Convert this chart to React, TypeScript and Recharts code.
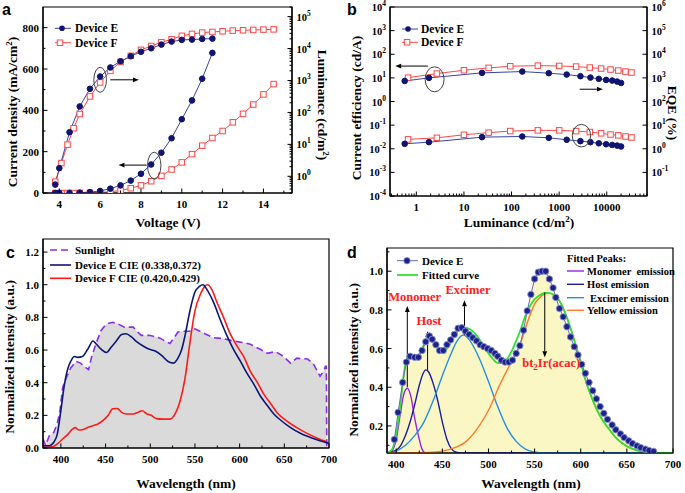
import React from "react"
import { ComposedChart, LineChart, Line, Area, XAxis, YAxis, ReferenceArea, ReferenceLine, ReferenceDot } from "recharts"

const SERIF = "'Liberation Serif', 'Times New Roman', serif"
const SANS = "'Liberation Sans', Arial, sans-serif"

// ---- (a) J-V-L ----
const voltE = [3.8, 4.0, 4.5, 5.0, 5.5, 6.0, 6.5, 7.0, 7.5, 8.0, 8.5, 9.0, 9.5, 10.0, 10.5, 11.0, 11.5]
const currentE = [0, 1, 1, 2, 4, 10, 21, 37, 60, 93, 138, 195, 265, 357, 448, 553, 678]
const lumE = [0.55, 1.8, 24, 154, 550, 1330, 2560, 4000, 5750, 7900, 10200, 13300, 16500, 18700, 19100, 20000, 20500]
const voltF = [3.8, 4.1, 4.4, 4.7, 5.0, 5.5, 6.0, 6.5, 7.0, 7.5, 8.0, 8.5, 9.0, 9.5, 10.0, 10.5, 11.0, 11.5, 12.0, 12.5, 13.0, 13.5, 14.0, 14.5]
const currentF = [0, 0, 0, 0, 0, 1, 3, 6, 12, 23, 37, 57, 83, 114, 148, 188, 229, 266, 300, 342, 383, 428, 477, 527]
const lumF = [0.68, 2.6, 9.8, 32, 89, 316, 870, 2000, 3800, 5900, 9100, 12000, 15800, 19500, 25000, 28700, 31600, 33100, 34700, 36500, 37400, 38300, 39200, 39900]
const voltTicks = [4, 6, 8, 10, 12, 14]
const voltMinor = [5, 7, 9, 11, 13, 15]
const jTicks = [0, 200, 400, 600, 800]
const jMinor = [100, 300, 500, 700]
const lumTicks = [1, 10, 100, 1000, 10000, 100000]

// ---- (b) efficiency ----
const lumEffE = [0.57, 1.84, 24, 168, 605, 1440, 2800, 4540, 6800, 9700, 13000, 16500, 20000]
const ceE = [7.4, 10, 16.3, 18.5, 15.8, 13.8, 11.8, 10.3, 9.1, 8.2, 7.7, 7.0, 6.1]
const eqeE = [1.62, 1.9, 3.1, 3.3, 2.9, 2.4, 2.1, 1.9, 1.7, 1.55, 1.45, 1.36, 1.25]
const lumEffF = [0.67, 2.7, 10, 33, 94, 357, 1000, 2270, 4400, 7600, 12000, 17500, 24700, 33000]
const ceF = [10.2, 15.2, 21, 26.5, 31, 33, 32, 30, 27.3, 24.8, 22.5, 20.4, 18.5, 16.8]
const eqeF = [2.5, 2.9, 3.9, 4.8, 5.6, 6.0, 6.0, 5.6, 5.1, 4.5, 4.0, 3.7, 3.3, 3.0]
const bxTicks = [1, 10, 100, 1000, 10000]
const ceTicks = [1e-4, 1e-3, 1e-2, 1e-1, 1, 10, 100, 1000, 10000]
const eqeTicks = [1e-1, 1, 10, 100, 1000, 1e4, 1e5, 1e6]

// ---- (c) spectra vs sunlight ----
const sunWl = [380, 383, 387, 392, 396, 399, 402, 406, 411, 417, 422, 426, 431, 434, 439, 445, 451, 458, 464, 471, 481, 486, 490, 499, 507, 512, 518, 522, 526, 531, 537, 544, 550, 561, 571, 582, 593, 605, 612, 623, 631, 640, 648, 657, 664, 676, 682, 687, 690, 694, 696, 697, 697.5]
const sunVal = [0.055, 0.015, 0.075, 0.095, 0.15, 0.23, 0.37, 0.43, 0.49, 0.53, 0.52, 0.5, 0.48, 0.55, 0.635, 0.72, 0.76, 0.77, 0.76, 0.74, 0.74, 0.71, 0.69, 0.69, 0.68, 0.67, 0.65, 0.64, 0.67, 0.71, 0.715, 0.715, 0.73, 0.7, 0.675, 0.67, 0.655, 0.645, 0.635, 0.605, 0.58, 0.59, 0.565, 0.52, 0.55, 0.545, 0.52, 0.47, 0.44, 0.47, 0.5, 0.5, 0]
const cEWl = [380, 387, 392, 396, 400, 404, 408, 411, 415, 419, 424, 430, 436, 439, 445, 451, 456, 462, 468, 473, 479, 484, 492, 499, 505, 513, 520, 526, 531, 535, 539, 544, 550, 555, 559, 564, 571, 578, 586, 593, 601, 608, 616, 623, 631, 638, 646, 657, 668, 680, 691, 700]
const cEVal = [0.014, 0.014, 0.035, 0.085, 0.23, 0.39, 0.49, 0.53, 0.56, 0.555, 0.56, 0.605, 0.655, 0.64, 0.605, 0.585, 0.615, 0.655, 0.695, 0.7, 0.68, 0.655, 0.625, 0.605, 0.595, 0.565, 0.53, 0.52, 0.55, 0.6, 0.69, 0.83, 0.955, 0.99, 1.0, 0.965, 0.89, 0.79, 0.685, 0.605, 0.53, 0.46, 0.39, 0.32, 0.26, 0.21, 0.17, 0.125, 0.09, 0.063, 0.043, 0.028]
const cFWl = [380, 391, 396, 402, 408, 413, 416, 420, 424, 430, 436, 441, 447, 453, 458, 463, 468, 473, 481, 486, 491, 496, 501, 507, 514, 522, 528, 533, 539, 544, 550, 556, 561, 564, 569, 574, 582, 589, 597, 605, 612, 620, 627, 635, 642, 653, 664, 676, 687, 698]
const cFVal = [0.005, 0.008, 0.025, 0.055, 0.085, 0.115, 0.125, 0.11, 0.112, 0.125, 0.136, 0.146, 0.167, 0.2, 0.24, 0.242, 0.218, 0.208, 0.208, 0.218, 0.228, 0.21, 0.2, 0.18, 0.177, 0.177, 0.21, 0.28, 0.43, 0.63, 0.84, 0.94, 0.99, 1.0, 0.97, 0.9, 0.8, 0.705, 0.625, 0.555, 0.47, 0.4, 0.33, 0.27, 0.216, 0.165, 0.125, 0.088, 0.06, 0.037]
const wlTicks = [400, 450, 500, 550, 600, 650, 700]
const wlMinor = [425, 475, 525, 575, 625, 675]
const cYTicks = [0, 0.2, 0.4, 0.6, 0.8, 1.0, 1.2]
const cYMinor = [0.1, 0.3, 0.5, 0.7, 0.9, 1.1]

// ---- (d) fitted peaks ----
const dWl = [398, 402, 407, 411, 415, 420, 424, 428, 432, 436, 439, 443, 447, 451, 455, 459, 463, 467, 471, 475, 479, 483, 487, 491, 495, 499, 503, 507, 510, 514, 518, 522, 526, 530, 534, 538, 542, 546, 550, 554, 558, 562, 566, 570, 573, 577, 581, 585, 589, 593, 597, 601, 605, 609, 613, 617, 621, 625, 629, 634, 638, 643, 647, 652, 656, 661, 665, 670, 674, 679]
const dVal = [0.13, 0.27, 0.425, 0.53, 0.56, 0.555, 0.555, 0.59, 0.635, 0.665, 0.648, 0.62, 0.59, 0.59, 0.62, 0.645, 0.673, 0.705, 0.708, 0.69, 0.673, 0.656, 0.64, 0.62, 0.61, 0.6, 0.59, 0.575, 0.56, 0.54, 0.53, 0.53, 0.54, 0.575, 0.615, 0.695, 0.795, 0.88, 0.96, 0.995, 1.0, 1.0, 0.96, 0.914, 0.864, 0.807, 0.764, 0.713, 0.66, 0.61, 0.567, 0.518, 0.472, 0.425, 0.382, 0.34, 0.3, 0.265, 0.234, 0.205, 0.18, 0.159, 0.14, 0.123, 0.109, 0.097, 0.088, 0.08, 0.073, 0.068]
const fitWl = [390, 395, 400, 405, 408, 411, 414, 418, 422, 426, 430, 434, 438, 442, 446, 450, 455, 460, 465, 470, 475, 480, 485, 490, 495, 500, 505, 510, 515, 520, 525, 530, 535, 540, 545, 550, 555, 560, 565, 570, 575, 580, 585, 590, 595, 600, 605, 610, 615, 620, 625, 630, 640, 650, 660, 670, 680, 690, 700]
const fitVal = [0.062, 0.075, 0.16, 0.33, 0.46, 0.54, 0.56, 0.55, 0.555, 0.58, 0.62, 0.65, 0.645, 0.62, 0.595, 0.585, 0.6, 0.64, 0.68, 0.705, 0.708, 0.7, 0.68, 0.65, 0.61, 0.575, 0.545, 0.525, 0.525, 0.545, 0.585, 0.64, 0.7, 0.77, 0.82, 0.855, 0.875, 0.886, 0.888, 0.88, 0.86, 0.82, 0.76, 0.69, 0.61, 0.53, 0.44, 0.37, 0.31, 0.26, 0.22, 0.187, 0.13, 0.095, 0.075, 0.065, 0.06, 0.06, 0.06]
const monoWl = [392, 396, 400, 404, 408, 412, 416, 420, 424, 428, 431, 435]
const monoVal = [0.06, 0.075, 0.13, 0.25, 0.36, 0.395, 0.35, 0.24, 0.15, 0.08, 0.062, 0.06]
const hostWl = [390, 400, 405, 410, 415, 420, 425, 429, 432, 435, 440, 445, 450, 455, 460, 465, 470, 700]
const hostVal = [0.062, 0.075, 0.1, 0.15, 0.22, 0.31, 0.41, 0.47, 0.49, 0.48, 0.42, 0.33, 0.22, 0.13, 0.08, 0.064, 0.06, 0.06]
const excWl = [395, 400, 410, 420, 430, 440, 450, 460, 466, 473, 480, 490, 500, 510, 520, 530, 540, 550, 560, 700]
const excVal = [0.062, 0.07, 0.1, 0.15, 0.22, 0.33, 0.46, 0.58, 0.64, 0.67, 0.64, 0.55, 0.43, 0.3, 0.19, 0.12, 0.08, 0.065, 0.06, 0.06]
const yelWl = [390, 430, 450, 465, 476, 490, 501, 512, 523, 534, 543, 550, 557, 565, 570, 575, 580, 585, 590, 595, 600, 605, 610, 615, 620, 625, 630, 640, 650, 660, 670, 680, 700]
const yelVal = [0.06, 0.062, 0.07, 0.09, 0.12, 0.2, 0.29, 0.41, 0.515, 0.618, 0.747, 0.83, 0.87, 0.888, 0.88, 0.86, 0.82, 0.76, 0.69, 0.61, 0.53, 0.44, 0.37, 0.31, 0.26, 0.22, 0.187, 0.13, 0.095, 0.075, 0.065, 0.06, 0.06]
const dYTicks = [0.2, 0.4, 0.6, 0.8, 1.0]
const dYMinor = [0.1, 0.3, 0.5, 0.7, 0.9, 1.1]

const pts = (xs: number[], ys: number[]) => xs.map((x, i) => ({ x, y: ys[i] }))

const logMinors = (lo: number, hi: number, min: number, max: number) => {
  const out: number[] = []
  for (let e = lo; e <= hi; e++) for (let k = 2; k <= 9; k++) out.push(k * Math.pow(10, e))
  return out.filter((v) => v >= min && v <= max)
}

const NAVY = "#101470"
const E_LINE = "#3844a8"
const F_RED = "#ff4646"
const GAP = 4
const AX = { stroke: "#000", strokeWidth: 1.2 }

const pow = (v: number) => {
  const e = Math.round(Math.log10(v))
  return (
    <>
      <tspan>10</tspan>
      <tspan dy={-5} fontSize={7.5}>{e}</tspan>
    </>
  )
}

type Side = "left" | "right" | "bottom"
function makeTick(side: Side, minors: number[], fmt: (v: number) => React.ReactNode, size = 11) {
  return (props: any) => {
    const { x, y, payload } = props
    const v = Number(payload.value)
    const minor = minors.some((m) => Math.abs(m - v) <= Math.abs(v) * 1e-6 + 1e-9)
    const len = minor ? 2.5 : 4.5
    const st = { fontFamily: SERIF, fontWeight: 700, fontSize: size, fill: "#000" }
    if (side === "bottom") {
      const ay = y - GAP
      return (
        <g>
          <line x1={x} x2={x} y1={ay} y2={ay - len} stroke="#000" />
          {!minor && <text x={x} y={ay + 14.5} textAnchor="middle" {...st}>{fmt(v)}</text>}
        </g>
      )
    }
    if (side === "left") {
      const ax = x + GAP
      return (
        <g>
          <line x1={ax} x2={ax + len} y1={y} y2={y} stroke="#000" />
          {!minor && <text x={ax - 4} y={y + 4} textAnchor="end" {...st}>{fmt(v)}</text>}
        </g>
      )
    }
    const ax = x - GAP
    return (
      <g>
        <line x1={ax} x2={ax - len} y1={y} y2={y} stroke="#000" />
        {!minor && <text x={ax + 4.5} y={y + 4} textAnchor="start" {...st}>{fmt(v)}</text>}
      </g>
    )
  }
}

const axisCommon = { tickSize: 0, tickMargin: GAP, tickLine: false, axisLine: AX, interval: 0 as const, allowDataOverflow: true }

const circleDot = (r: number) => (p: any) => <circle key={p.index} cx={p.cx} cy={p.cy} r={r} fill={NAVY} stroke={NAVY} />
const squareDot = (s: number) => (p: any) => (
  <rect key={p.index} x={p.cx - s / 2} y={p.cy - s / 2} width={s} height={s} fill="#fff" stroke={F_RED} strokeWidth={1} />
)
const ballDot = (p: any) => <circle key={p.index} cx={p.cx} cy={p.cy} r={3.2} fill="#1b2388" stroke="#8a90d4" strokeWidth={0.9} />

const arrowShape = (p: any) => {
  const { x1, y1, x2, y2 } = p
  const a = Math.atan2(y2 - y1, x2 - x1)
  const L = 6
  const W = 2.4
  const bx = x2 - L * Math.cos(a)
  const by = y2 - L * Math.sin(a)
  const px = -Math.sin(a) * W
  const py = Math.cos(a) * W
  return (
    <g>
      <line x1={x1} y1={y1} x2={bx} y2={by} stroke="#000" strokeWidth={1} />
      <polygon points={`${x2},${y2} ${bx + px},${by + py} ${bx - px},${by - py}`} fill="#000" />
    </g>
  )
}
const ellipseShape = (rx: number, ry: number) => (p: any) => (
  <ellipse cx={p.cx} cy={p.cy} rx={rx} ry={ry} fill="none" stroke="#444" strokeWidth={1} />
)
const redText = (content: React.ReactNode) => (p: any) => (
  <text x={p.cx} y={p.cy + 4} textAnchor="middle" fontFamily={SERIF} fontWeight={700} fontSize={12.5} fill="#ff2020">
    {content}
  </text>
)

function PanelA() {
  return (
    <LineChart width={345} height={245} margin={{ top: 7, right: 13, left: 3, bottom: 22 }}>
      <XAxis type="number" dataKey="x" domain={[3.2, 15.4]} ticks={[...voltTicks, ...voltMinor]} height={30} tick={makeTick("bottom", voltMinor, (v) => v)} {...axisCommon} />
      <YAxis yAxisId="j" type="number" domain={[0, 900]} ticks={[...jTicks, ...jMinor]} width={40} tick={makeTick("left", jMinor, (v) => v)} {...axisCommon} />
      <YAxis yAxisId="l" orientation="right" type="number" scale="log" domain={[0.3, 2e5]} width={40}
        ticks={[...lumTicks, ...logMinors(-1, 5, 0.3, 2e5)]} tick={makeTick("right", logMinors(-1, 5, 0.3, 2e5), pow, 10.5)} {...axisCommon} />
      <ReferenceArea yAxisId="j" x1={3.2} x2={15.4} y1={0} y2={900} fill="none" stroke="#000" strokeWidth={1.2} ifOverflow="visible" />
      <Line yAxisId="j" data={pts(voltF, currentF)} dataKey="y" stroke={F_RED} strokeWidth={1} dot={squareDot(5.5)} isAnimationActive={false} />
      <Line yAxisId="l" data={pts(voltF, lumF)} dataKey="y" stroke={F_RED} strokeWidth={1} dot={squareDot(5.5)} isAnimationActive={false} />
      <Line yAxisId="j" data={pts(voltE, currentE)} dataKey="y" stroke={E_LINE} strokeWidth={1} dot={circleDot(2.8)} isAnimationActive={false} />
      <Line yAxisId="l" data={pts(voltE, lumE)} dataKey="y" stroke={E_LINE} strokeWidth={1} dot={circleDot(2.8)} isAnimationActive={false} />
      <ReferenceDot yAxisId="l" x={6.0} y={1050} shape={ellipseShape(6.3, 12.5)} />
      <ReferenceLine yAxisId="l" segment={[{ x: 6.5, y: 1050 }, { x: 7.9, y: 1050 }]} shape={arrowShape} />
      <ReferenceDot yAxisId="j" x={8.65} y={133} shape={ellipseShape(6.7, 13.3)} />
      <ReferenceLine yAxisId="j" segment={[{ x: 8.28, y: 135 }, { x: 6.9, y: 135 }]} shape={arrowShape} />
    </LineChart>
  )
}

function PanelB() {
  const bxMinor = logMinors(-1, 4, 0.28, 70000)
  return (
    <LineChart width={340} height={245} margin={{ top: 7, right: 2, left: 5, bottom: 19 }}>
      <XAxis type="number" dataKey="x" scale="log" domain={[0.28, 70000]} ticks={[...bxTicks, ...bxMinor]} height={30} tick={makeTick("bottom", bxMinor, (v) => v)} {...axisCommon} />
      <YAxis yAxisId="ce" type="number" scale="log" domain={[1e-4, 1e4]} ticks={ceTicks} width={40} tick={makeTick("left", [], pow, 10.5)} {...axisCommon} />
      <YAxis yAxisId="eqe" orientation="right" type="number" scale="log" domain={[1e-2, 1e6]} ticks={eqeTicks} width={36} tick={makeTick("right", [], pow, 10.5)} {...axisCommon} />
      <ReferenceArea yAxisId="ce" x1={0.28} x2={70000} y1={1e-4} y2={1e4} fill="none" stroke="#000" strokeWidth={1.2} ifOverflow="visible" />
      <Line yAxisId="ce" data={pts(lumEffF, ceF)} dataKey="y" stroke={F_RED} strokeWidth={1} dot={squareDot(5.5)} isAnimationActive={false} />
      <Line yAxisId="eqe" data={pts(lumEffF, eqeF)} dataKey="y" stroke={F_RED} strokeWidth={1} dot={squareDot(5.5)} isAnimationActive={false} />
      <Line yAxisId="ce" data={pts(lumEffE, ceE)} dataKey="y" stroke={E_LINE} strokeWidth={1} dot={circleDot(2.8)} isAnimationActive={false} />
      <Line yAxisId="eqe" data={pts(lumEffE, eqeE)} dataKey="y" stroke={E_LINE} strokeWidth={1} dot={circleDot(2.8)} isAnimationActive={false} />
      <ReferenceDot yAxisId="ce" x={2.42} y={8.7} shape={ellipseShape(9.5, 12.5)} />
      <ReferenceLine yAxisId="ce" segment={[{ x: 1.75, y: 31.6 }, { x: 0.36, y: 31.6 }]} shape={arrowShape} />
      <ReferenceDot yAxisId="eqe" x={2940} y={3.58} shape={ellipseShape(9.2, 11.3)} />
      <ReferenceLine yAxisId="eqe" segment={[{ x: 2700, y: 331 }, { x: 8300, y: 331 }]} shape={arrowShape} />
    </LineChart>
  )
}

function PanelC() {
  return (
    <ComposedChart width={345} height={261} margin={{ top: 7, right: 16, left: 3, bottom: 15 }}>
      <XAxis type="number" dataKey="x" domain={[380, 700]} ticks={[...wlTicks, ...wlMinor]} height={30} tick={makeTick("bottom", wlMinor, (v) => v)} {...axisCommon} />
      <YAxis type="number" domain={[0, 1.28]} ticks={[...cYTicks, ...cYMinor]} width={40} tick={makeTick("left", cYMinor, (v) => v.toFixed(1))} {...axisCommon} />
      <Area data={pts(sunWl, sunVal)} dataKey="y" type="linear" fill="#dadada" fillOpacity={1} stroke="#8c2cf0" strokeWidth={1.6} strokeDasharray="7 4" isAnimationActive={false} />
      <Line data={pts(cFWl, cFVal)} dataKey="y" type="monotone" stroke="#ff1a1a" strokeWidth={1.6} dot={false} isAnimationActive={false} />
      <Line data={pts(cEWl, cEVal)} dataKey="y" type="monotone" stroke="#0c1678" strokeWidth={1.6} dot={false} isAnimationActive={false} />
      <ReferenceArea x1={380} x2={700} y1={0} y2={1.28} fill="none" stroke="#000" strokeWidth={1.2} ifOverflow="visible" />
    </ComposedChart>
  )
}

function PanelD() {
  return (
    <ComposedChart width={340} height={261} margin={{ top: 16, right: 12, left: 2, bottom: 10 }}>
      <XAxis type="number" dataKey="x" domain={[390, 700]} ticks={[...wlTicks, ...wlMinor]} height={30} tick={makeTick("bottom", wlMinor, (v) => v)} {...axisCommon} />
      <YAxis type="number" domain={[0.06, 1.12]} ticks={[...dYTicks, ...dYMinor]} width={40} tick={makeTick("left", dYMinor, (v) => v.toFixed(1))} {...axisCommon} />
      <Area data={pts(dWl, dVal)} dataKey="y" type="monotone" fill="#fbf7c4" fillOpacity={1} stroke="none" isAnimationActive={false} />
      <Line data={pts(monoWl, monoVal)} dataKey="y" type="monotone" stroke="#9a22ee" strokeWidth={1.4} dot={false} isAnimationActive={false} />
      <Line data={pts(hostWl, hostVal)} dataKey="y" type="monotone" stroke="#1c1ca8" strokeWidth={1.4} dot={false} isAnimationActive={false} />
      <Line data={pts(excWl, excVal)} dataKey="y" type="monotone" stroke="#2290e6" strokeWidth={1.4} dot={false} isAnimationActive={false} />
      <Line data={pts(yelWl, yelVal)} dataKey="y" type="monotone" stroke="#ff7a2a" strokeWidth={1.4} dot={false} isAnimationActive={false} />
      <Line data={pts(fitWl, fitVal)} dataKey="y" type="monotone" stroke="#2ee22e" strokeWidth={1.8} dot={false} isAnimationActive={false} />
      <Line data={pts(dWl, dVal)} dataKey="y" type="linear" stroke="#6a6ab8" strokeWidth={1} dot={ballDot} isAnimationActive={false} />
      <ReferenceArea x1={390} x2={700} y1={0.06} y2={1.12} fill="none" stroke="#000" strokeWidth={1.2} ifOverflow="visible" />
      <ReferenceLine segment={[{ x: 412, y: 0.4 }, { x: 412, y: 0.82 }]} shape={arrowShape} />
      <ReferenceLine segment={[{ x: 434, y: 0.49 }, { x: 434, y: 0.69 }]} shape={arrowShape} />
      <ReferenceLine segment={[{ x: 474, y: 0.67 }, { x: 474, y: 0.85 }]} shape={arrowShape} />
      <ReferenceLine segment={[{ x: 561, y: 0.89 }, { x: 561, y: 0.555 }]} shape={arrowShape} />
      <ReferenceDot x={420} y={0.867} shape={redText("Monomer")} />
      <ReferenceDot x={435.5} y={0.742} shape={redText("Host")} />
      <ReferenceDot x={477.8} y={0.902} shape={redText("Excimer")} />
      <ReferenceDot x={568} y={0.524} shape={redText(<><tspan>bt</tspan><tspan dy={3} fontSize={9}>2</tspan><tspan dy={-3}>Ir(acac)</tspan></>)} />
    </ComposedChart>
  )
}

const T = { fontFamily: SERIF, fontWeight: 700, fill: "#000" } as const

function Overlay() {
  const title = { ...T, fontSize: 13.5 }
  const leg = { ...T, fontSize: 11.5 }
  const legS = { ...T, fontSize: 11 }
  const legD = { ...T, fontSize: 10.5 }
  const sup = (s: string) => <tspan dy={-5} fontSize={9}>{s}</tspan>
  return (
    <svg width={685} height={493} style={{ position: "absolute", left: 0, top: 0, pointerEvents: "none" }}>
      {/* panel letters */}
      <text x={2} y={15} fontFamily={SANS} fontWeight={700} fontSize={16}>a</text>
      <text x={347} y={15} fontFamily={SANS} fontWeight={700} fontSize={16}>b</text>
      <text x={6} y={258} fontFamily={SANS} fontWeight={700} fontSize={16}>c</text>
      <text x={347} y={258} fontFamily={SANS} fontWeight={700} fontSize={16}>d</text>

      {/* (a) */}
      <text transform="translate(17,112) rotate(-90)" textAnchor="middle" {...title}>Current density (mA/cm{sup("2")}<tspan dy={5}>)</tspan></text>
      <text x={168} y={227} textAnchor="middle" {...title}>Voltage (V)</text>
      <text transform="translate(318,105) rotate(90)" textAnchor="middle" {...title}>Luminance (cd/m{sup("2")}<tspan dy={5}>)</tspan></text>
      <line x1={55} x2={71} y1={28.3} y2={28.3} stroke={E_LINE} />
      <circle cx={62} cy={28.3} r={2.8} fill={NAVY} />
      <text x={75} y={32.3} {...leg}>Device E</text>
      <line x1={55} x2={71} y1={42.7} y2={42.7} stroke={F_RED} />
      <rect x={57.3} y={40} width={5.5} height={5.5} fill="#fff" stroke={F_RED} />
      <text x={75} y={46.7} {...leg}>Device F</text>

      {/* (b) */}
      <text transform="translate(361,108) rotate(-90)" textAnchor="middle" {...title}>Current efficiency (cd/A)</text>
      <text x={519} y={227} textAnchor="middle" {...title}>Luminance (cd/m{sup("2")}<tspan dy={5}>)</tspan></text>
      <text transform="translate(668,113) rotate(90)" textAnchor="middle" {...title}>EQE (%)</text>
      <line x1={402} x2={418} y1={29} y2={29} stroke={E_LINE} />
      <circle cx={408} cy={29} r={2.8} fill={NAVY} />
      <text x={421} y={33} {...leg}>Device E</text>
      <line x1={402} x2={418} y1={42.3} y2={42.3} stroke={F_RED} />
      <rect x={404.3} y={39.5} width={5.5} height={5.5} fill="#fff" stroke={F_RED} />
      <text x={421} y={46.3} {...leg}>Device F</text>

      {/* (c) */}
      <text transform="translate(14,357) rotate(-90)" textAnchor="middle" {...title}>Normalized intensity (a.u.)</text>
      <text x={186} y={488} textAnchor="middle" {...title}>Wavelength (nm)</text>
      <line x1={50} x2={71} y1={250} y2={250} stroke="#8c2cf0" strokeWidth={1.6} strokeDasharray="7 4" />
      <text x={75} y={254} {...legS}>Sunlight</text>
      <line x1={50} x2={71} y1={265} y2={265} stroke="#0c1678" strokeWidth={1.6} />
      <text x={75} y={269} {...legS}>Device E CIE (0.338,0.372)</text>
      <line x1={50} x2={71} y1={278.3} y2={278.3} stroke="#ff1a1a" strokeWidth={1.6} />
      <text x={75} y={282.3} {...legS}>Device F CIE (0.420,0.429)</text>

      {/* (d) */}
      <text transform="translate(358,360) rotate(-90)" textAnchor="middle" {...title}>Normalized intensity (a.u.)</text>
      <text x={531} y={488} textAnchor="middle" {...title}>Wavelength (nm)</text>
      <line x1={397} x2={418} y1={260.7} y2={260.7} stroke="#6a6ab8" />
      <circle cx={407} cy={260.7} r={3.2} fill="#1b2388" stroke="#8a90d4" strokeWidth={0.9} />
      <text x={422} y={264.7} {...legS}>Device E</text>
      <line x1={397} x2={418} y1={275} y2={275} stroke="#2ee22e" strokeWidth={1.8} />
      <text x={422} y={279} {...legS}>Fitted curve</text>
      <text x={567} y={262.3} {...legD}>Fitted Peaks:</text>
      <line x1={567} x2={584} y1={271} y2={271} stroke="#9a22ee" strokeWidth={1.4} />
      <text x={587} y={275} {...legD} style={{ whiteSpace: "pre" }}>Monomer  emission</text>
      <line x1={567} x2={584} y1={284.3} y2={284.3} stroke="#1c1ca8" strokeWidth={1.4} />
      <text x={587} y={288.3} {...legD}>Host emission</text>
      <line x1={567} x2={584} y1={297.7} y2={297.7} stroke="#2290e6" strokeWidth={1.4} />
      <text x={590} y={301.7} {...legD}>Excimer emission</text>
      <line x1={567} x2={584} y1={310.3} y2={310.3} stroke="#ff7a2a" strokeWidth={1.4} />
      <text x={587} y={314.3} {...legD}>Yellow emission</text>
    </svg>
  )
}

export default function App() {
  return (
    <div style={{ position: "absolute", left: 0, top: 0, width: 685, height: 493, background: "#fff", overflow: "hidden" }}>
      <div style={{ position: "absolute", left: 0, top: 0 }}><PanelA /></div>
      <div style={{ position: "absolute", left: 345, top: 0 }}><PanelB /></div>
      <div style={{ position: "absolute", left: 0, top: 232 }}><PanelC /></div>
      <div style={{ position: "absolute", left: 345, top: 232 }}><PanelD /></div>
      <Overlay />
    </div>
  )
}
